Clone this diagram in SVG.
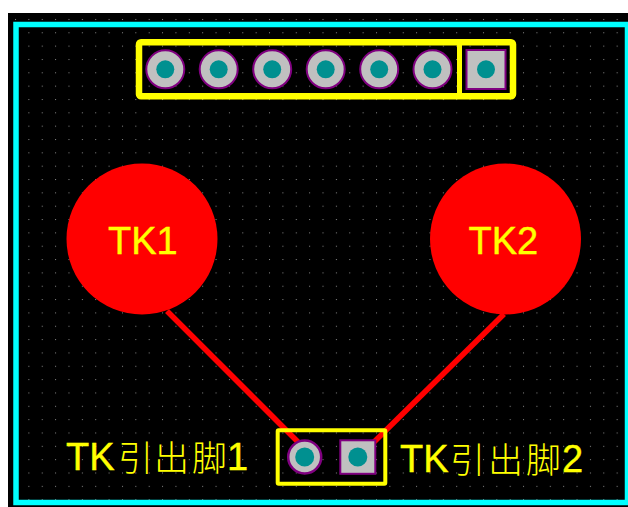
<svg xmlns="http://www.w3.org/2000/svg" width="628" height="507" viewBox="0 0 628 507">
<style>
.pad{fill:#c0c0c0;stroke:#800080}
.hole{fill:#009090}
.silk{fill:none;stroke:#ffff00}
.txt{fill:#ffff00;stroke:#ffff00;stroke-width:.4;font-family:"Liberation Sans","Noto Sans CJK SC",sans-serif;font-size:38px}
.cjk{font-family:"Noto Sans CJK SC",sans-serif;font-size:35px;font-weight:300;stroke:none}
.tk{fill:#ff0000}
.trace{stroke:#ff0000;stroke-width:5.500;fill:none}
</style>
<defs>
<pattern id="grid" x="15" y="5.600" width="13.370" height="13.340" patternUnits="userSpaceOnUse">
<rect x="0" y="0" width="1" height="1" fill="#8a8a8a"/>
</pattern>
</defs>
<rect width="628" height="507" fill="#ffffff"/>
<rect x="8" y="13" width="620" height="494" fill="#000000"/>
<rect x="8" y="13" width="620" height="494" fill="url(#grid)"/>
<rect id="board" x="16" y="24.500" width="611.500" height="478" fill="none" stroke="#00ffff" stroke-width="5.500"/>
<g id="connectors">
<line class="trace" x1="167" y1="311" x2="299" y2="443"/>
<line class="trace" x1="504" y1="314" x2="373" y2="443"/>
</g>
<g id="header">
<rect class="silk" x="139" y="42.300" width="374" height="54" rx="2" stroke-width="6.500"/>
<line class="silk" x1="459.500" y1="42" x2="459.500" y2="96" stroke-width="5"/>
<g id="h1"><circle class="pad" cx="165.300" cy="69.300" r="19" stroke-width="2"/><circle class="hole" cx="165.300" cy="69.300" r="9"/></g>
<g id="h2"><circle class="pad" cx="218.700" cy="69.300" r="19" stroke-width="2"/><circle class="hole" cx="218.700" cy="69.300" r="9"/></g>
<g id="h3"><circle class="pad" cx="272.200" cy="69.300" r="19" stroke-width="2"/><circle class="hole" cx="272.200" cy="69.300" r="9"/></g>
<g id="h4"><circle class="pad" cx="325.700" cy="69.300" r="19" stroke-width="2"/><circle class="hole" cx="325.700" cy="69.300" r="9"/></g>
<g id="h5"><circle class="pad" cx="379.200" cy="69.300" r="19" stroke-width="2"/><circle class="hole" cx="379.200" cy="69.300" r="9"/></g>
<g id="h6"><circle class="pad" cx="432.500" cy="69.300" r="19" stroke-width="2"/><circle class="hole" cx="432.500" cy="69.300" r="9"/></g>
<g id="h7"><rect class="pad" x="466.500" y="50" width="39" height="39" stroke-width="2"/><circle class="hole" cx="486" cy="69.300" r="9"/></g>
</g>
<g id="TK1"><circle class="tk" cx="142" cy="239" r="75.500"/><text class="txt" x="108" y="254.300">TK1</text></g>
<g id="TK2"><circle class="tk" cx="505.500" cy="239" r="75.500"/><text class="txt" x="468.500" y="254.300">TK2</text></g>
<g id="connector-footprint">
<rect class="silk" x="277.700" y="430.300" width="107.600" height="53.400" rx="1" stroke-width="4"/>
<g id="p1"><circle class="pad" cx="304.700" cy="457" r="16.500" stroke-width="2.500"/><circle class="hole" cx="304.700" cy="457" r="9.500"/></g>
<g id="p2"><rect class="pad" x="340.300" y="440.300" width="35" height="33.500" stroke-width="2"/><circle class="hole" cx="357.800" cy="457" r="9.500"/></g>
</g>
<text id="label1" class="txt" x="66" y="470">TK<tspan class="cjk" x="118" dy="1">引</tspan><tspan class="cjk" x="154">出</tspan><tspan class="cjk" x="192">脚</tspan><tspan x="227" dy="-1">1</tspan></text>
<text id="label2" class="txt" x="400" y="472">TK<tspan class="cjk" x="450" dy="1">引</tspan><tspan class="cjk" x="488">出</tspan><tspan class="cjk" x="526">脚</tspan><tspan x="562" dy="-1">2</tspan></text>
</svg>
